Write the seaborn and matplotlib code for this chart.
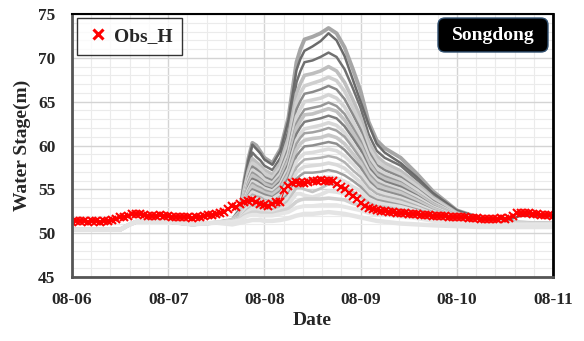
import numpy as np
import pandas as pd
import matplotlib
matplotlib.use("Agg")
import matplotlib.pyplot as plt
from matplotlib.ticker import MultipleLocator, FixedLocator, FixedFormatter
from matplotlib.lines import Line2D
from matplotlib.patches import FancyBboxPatch
import seaborn as sns

# ---------------- data ----------------
tick_labels = ["08-06", "08-07", "08-08", "08-09", "08-10", "08-11"]

# observed stage, hourly from 08-06 00:00 to 08-11 00:00
obs_hours = list(range(0, 121))
obs_h = [
    51.3, 51.4, 51.4, 51.4, 51.3, 51.4, 51.4, 51.3, 51.4, 51.4,
    51.5, 51.6, 51.8, 51.9, 52.0, 52.2, 52.2, 52.2, 52.1, 52.0,
    52.0, 52.0, 52.1, 52.0, 52.0, 51.9, 51.9, 51.8, 51.8, 51.8,
    51.7, 51.8, 51.9, 52.0, 52.1, 52.1, 52.2, 52.3, 52.4, 52.8,
    53.1, 53.0, 53.3, 53.5, 53.7, 53.8, 53.6, 53.3, 53.2, 53.1,
    53.3, 53.5, 53.6, 54.9, 55.4, 55.7, 55.8, 55.7, 55.7, 55.8,
    55.9, 56.0, 56.1, 56.0, 55.9, 55.9, 55.6, 55.3, 55.0, 54.6,
    54.2, 53.9, 53.4, 53.1, 52.9, 52.8, 52.6, 52.5, 52.5, 52.4,
    52.4, 52.3, 52.3, 52.3, 52.2, 52.2, 52.2, 52.1, 52.1, 52.1,
    52.0, 52.0, 52.0, 52.0, 51.9, 51.9, 51.8, 51.8, 51.8, 51.7,
    51.7, 51.7, 51.6, 51.6, 51.6, 51.6, 51.6, 51.7, 51.6, 51.7,
    52.0, 52.3, 52.3, 52.3, 52.3, 52.2, 52.2, 52.1, 52.1, 52.1,
    52.0,
]

# ensemble members: shared pre-event part + individual event part (hours)
pre_hours = [0, 12, 14, 16, 24, 30, 36]
pre_stage = [50.4, 50.4, 50.9, 51.3, 51.3, 51.0, 51.2]
event_hours = [40, 42, 43, 44, 45, 46, 47, 48, 50, 52, 54, 56, 57, 58, 60, 62,
               64, 66, 68, 70, 72, 74, 76, 78, 82, 86, 90, 96, 102, 108, 112, 120]

members = [
    [51.5, 52.8, 56.0, 58.5, 60.3, 60.0, 59.3, 58.6, 58.0, 59.6, 63.2, 69.5, 71.0, 72.1, 72.4, 72.8, 73.4, 72.8, 71.2, 68.8, 66.2, 62.7, 60.6, 59.7, 58.6, 56.8, 54.8, 52.6, 51.7, 51.3, 51.2, 51.1],
    [51.5, 52.8, 55.9, 58.3, 60.1, 59.6, 59.1, 58.4, 57.8, 59.4, 62.9, 68.6, 69.9, 70.8, 71.3, 71.9, 72.8, 72.0, 70.2, 67.6, 65.0, 62.4, 60.2, 59.2, 58.0, 56.4, 54.6, 52.6, 51.7, 51.3, 51.2, 51.1],
    [51.5, 52.6, 55.4, 57.6, 59.2, 58.7, 58.3, 57.7, 57.2, 58.6, 61.7, 67.2, 68.5, 69.5, 69.7, 70.1, 70.6, 70.1, 68.7, 66.6, 64.3, 61.3, 59.4, 58.6, 57.7, 56.1, 54.3, 52.4, 51.7, 51.4, 52.0, 51.9],
    [51.5, 52.5, 55.1, 57.1, 58.5, 58.1, 57.7, 57.2, 56.7, 58.0, 60.9, 65.9, 67.1, 68.0, 68.2, 68.5, 69.0, 68.5, 67.2, 65.3, 63.2, 60.4, 58.8, 58.0, 57.1, 55.7, 54.1, 52.3, 51.6, 51.2, 51.2, 51.1],
    [51.5, 52.4, 54.8, 56.7, 58.0, 57.7, 57.3, 56.8, 56.3, 57.5, 60.2, 64.9, 66.0, 66.8, 67.1, 67.4, 67.8, 67.4, 66.2, 64.4, 62.4, 59.8, 58.3, 57.6, 56.7, 55.4, 53.9, 52.2, 51.5, 51.2, 51.2, 51.1],
    [51.4, 52.4, 54.6, 56.4, 57.6, 57.3, 56.9, 56.4, 56.0, 57.2, 59.7, 64.1, 65.1, 65.9, 66.1, 66.4, 66.8, 66.4, 65.3, 63.6, 61.8, 59.3, 57.8, 57.2, 56.4, 55.1, 53.7, 52.1, 51.5, 51.2, 51.1, 51.1],
    [51.4, 52.3, 54.4, 56.1, 57.2, 56.9, 56.6, 56.1, 55.7, 56.8, 59.1, 63.3, 64.2, 65.0, 65.2, 65.4, 65.8, 65.4, 64.4, 62.8, 61.1, 58.8, 57.4, 56.8, 56.1, 54.9, 53.5, 52.1, 51.5, 51.2, 51.1, 51.1],
    [51.4, 52.3, 54.2, 55.8, 56.9, 56.6, 56.2, 55.8, 55.5, 56.5, 58.7, 62.5, 63.4, 64.1, 64.3, 64.5, 64.9, 64.5, 63.6, 62.1, 60.5, 58.3, 57.0, 56.5, 55.8, 54.6, 53.4, 52.0, 51.4, 51.2, 51.1, 51.1],
    [51.4, 52.2, 54.1, 55.5, 56.6, 56.3, 56.0, 55.6, 55.2, 56.2, 58.3, 62.0, 62.8, 63.5, 63.6, 63.9, 64.2, 63.9, 62.9, 61.5, 60.0, 58.0, 56.7, 56.2, 55.6, 54.5, 53.3, 52.0, 51.4, 51.2, 51.1, 51.1],
    [51.4, 52.2, 53.9, 55.3, 56.2, 56.0, 55.7, 55.3, 55.0, 55.9, 57.9, 61.3, 62.1, 62.7, 62.9, 63.1, 63.4, 63.1, 62.2, 60.9, 59.5, 57.5, 56.4, 55.9, 55.3, 54.3, 53.1, 51.9, 51.4, 51.2, 51.1, 51.1],
    [51.4, 52.1, 53.8, 55.0, 55.9, 55.7, 55.4, 55.1, 54.8, 55.6, 57.4, 60.6, 61.4, 61.9, 62.1, 62.3, 62.6, 62.3, 61.5, 60.2, 58.9, 57.1, 56.1, 55.6, 55.0, 54.1, 53.0, 51.9, 51.4, 51.2, 51.1, 51.1],
    [51.4, 52.1, 53.6, 54.8, 55.7, 55.4, 55.2, 54.9, 54.6, 55.4, 57.1, 60.2, 60.9, 61.4, 61.5, 61.7, 62.0, 61.7, 61.0, 59.8, 58.5, 56.8, 55.8, 55.4, 54.8, 53.9, 52.9, 51.8, 51.3, 51.1, 51.1, 51.1],
    [51.4, 52.0, 53.5, 54.6, 55.4, 55.1, 54.9, 54.6, 54.4, 55.1, 56.7, 59.5, 60.2, 60.6, 60.8, 60.9, 61.2, 60.9, 60.2, 59.1, 58.0, 56.4, 55.5, 55.1, 54.6, 53.7, 52.8, 51.8, 51.3, 51.1, 51.1, 51.0],
    [51.4, 52.0, 53.3, 54.3, 55.0, 54.8, 54.6, 54.4, 54.1, 54.8, 56.3, 58.8, 59.4, 59.9, 60.0, 60.2, 60.4, 60.2, 59.5, 58.5, 57.5, 56.0, 55.1, 54.8, 54.3, 53.5, 52.6, 51.7, 51.3, 51.1, 51.1, 51.0],
    [51.4, 51.9, 53.1, 54.1, 54.7, 54.5, 54.3, 54.1, 53.9, 54.5, 55.8, 58.2, 58.7, 59.1, 59.2, 59.4, 59.6, 59.4, 58.8, 57.9, 56.9, 55.6, 54.8, 54.5, 54.0, 53.3, 52.5, 51.7, 51.3, 51.1, 51.1, 51.0],
    [51.4, 51.9, 53.0, 53.8, 54.4, 54.2, 54.1, 53.8, 53.6, 54.2, 55.4, 57.5, 58.0, 58.4, 58.5, 58.6, 58.8, 58.6, 58.1, 57.2, 56.4, 55.2, 54.5, 54.2, 53.8, 53.1, 52.4, 51.6, 51.2, 51.1, 51.1, 51.0],
    [51.4, 51.8, 52.8, 53.5, 54.1, 53.9, 53.8, 53.6, 53.4, 53.9, 55.0, 56.9, 57.3, 57.6, 57.7, 57.8, 58.0, 57.8, 57.4, 56.6, 55.8, 54.7, 54.1, 53.9, 53.5, 52.9, 52.2, 51.5, 51.2, 51.1, 51.1, 51.0],
    [51.4, 51.8, 52.6, 53.3, 53.7, 53.6, 53.5, 53.3, 53.1, 53.6, 54.5, 56.2, 56.6, 56.9, 56.9, 57.0, 57.2, 57.0, 56.6, 56.0, 55.3, 54.3, 53.8, 53.6, 53.2, 52.7, 52.1, 51.5, 51.2, 51.1, 51.1, 51.0],
    [51.3, 51.7, 52.5, 53.0, 53.4, 53.3, 53.2, 53.0, 52.9, 53.3, 54.1, 55.6, 55.9, 56.1, 56.2, 56.3, 56.4, 56.3, 55.9, 55.3, 54.8, 53.9, 53.5, 53.3, 53.0, 52.5, 52.0, 51.4, 51.2, 51.1, 51.0, 51.0],
    [51.3, 51.7, 52.3, 52.8, 53.1, 53.0, 52.9, 52.8, 52.7, 53.0, 53.7, 55.2, 55.2, 55.0, 54.7, 55.1, 55.6, 55.5, 55.2, 54.7, 54.2, 53.5, 53.1, 53.0, 52.7, 52.3, 51.9, 51.4, 51.1, 51.1, 51.0, 51.0],
    [51.3, 51.6, 52.1, 52.5, 52.8, 52.7, 52.6, 52.5, 52.4, 52.7, 53.3, 54.5, 54.5, 54.3, 54.1, 54.4, 54.8, 54.7, 54.5, 54.1, 53.7, 53.1, 52.8, 52.7, 52.4, 52.1, 51.7, 51.3, 51.1, 51.0, 51.0, 51.0],
    [51.3, 51.6, 52.0, 52.2, 52.4, 52.4, 52.3, 52.3, 52.2, 52.5, 52.8, 53.6, 53.8, 53.9, 53.9, 53.9, 54.0, 53.9, 53.8, 53.4, 53.2, 52.7, 52.5, 52.4, 52.2, 51.9, 51.6, 51.3, 51.1, 51.0, 51.0, 51.0],
    [51.3, 51.5, 51.8, 52.0, 52.1, 52.1, 52.0, 52.0, 52.0, 52.2, 52.4, 52.9, 53.0, 53.1, 53.1, 53.2, 53.2, 53.2, 53.0, 52.8, 52.6, 52.3, 52.1, 52.1, 51.9, 51.7, 51.4, 51.2, 51.0, 51.0, 51.0, 51.0],
    [51.0, 51.2, 51.3, 51.4, 51.5, 51.5, 51.5, 51.4, 51.4, 51.5, 51.7, 52.0, 52.1, 52.2, 52.2, 52.3, 52.4, 52.3, 52.2, 52.0, 51.8, 51.6, 51.4, 51.3, 51.1, 51.0, 50.9, 50.8, 50.7, 50.7, 50.7, 50.7],
]

# styles (not data)
member_colors = ["#a6a6a6", "#6a6a6a", "#707070", "#bebebe", "#cfcfcf", "#8a8a8a",
                 "#d4d4d4", "#979797", "#c2c2c2", "#7e7e7e", "#d8d8d8", "#a2a2a2",
                 "#c8c8c8", "#8e8e8e", "#dcdcdc", "#b2b2b2", "#dadada", "#9e9e9e",
                 "#e0e0e0", "#c4c4c4", "#e2e2e2", "#d2d2d2", "#e6e6e6", "#e4e4e4"]
member_widths = [2.8, 1.8, 1.8, 2.6, 2.6, 1.8, 2.6, 1.8, 2.6, 1.8, 2.6, 1.8,
                 2.6, 1.8, 2.6, 1.8, 2.6, 1.8, 2.8, 2.0, 2.8, 2.6, 2.8, 3.2]

# ---------------- build long-form table ----------------
rows = []
for i, ev in enumerate(members):
    hrs = pre_hours + event_hours
    vals = pre_stage + ev
    for h, v in zip(hrs, vals):
        rows.append((f"m{i+1}", h / 24.0, v))
ens = pd.DataFrame(rows, columns=["member", "day", "stage"])
obs = pd.DataFrame({"day": np.array(obs_hours) / 24.0, "stage": obs_h})

# ---------------- plot ----------------
sns.set_theme(style="white")
plt.rcParams["font.family"] = ["Liberation Serif", "DejaVu Serif"]
plt.rcParams["font.weight"] = "bold"

fig = plt.figure(figsize=(5.84, 3.41), dpi=100)
ax = fig.add_axes([72 / 584, 1 - 277 / 341, (553 - 72) / 584, (277 - 14) / 341])

for i in range(len(members)):
    sub = ens[ens["member"] == f"m{i+1}"]
    sns.lineplot(data=sub, x="day", y="stage", ax=ax, color=member_colors[i],
                 lw=member_widths[i], estimator=None, sort=False, legend=False,
                 solid_capstyle="round", solid_joinstyle="round")

sns.lineplot(data=obs, x="day", y="stage", ax=ax, color="red", lw=0.7,
             marker="x", markersize=5.5, markeredgewidth=1.5,
             markeredgecolor="red", estimator=None, legend=False)

ax.set_xlim(0, 5)
ax.set_ylim(45, 75)
ax.xaxis.set_major_locator(FixedLocator(list(range(len(tick_labels)))))
ax.xaxis.set_major_formatter(FixedFormatter(tick_labels))
ax.xaxis.set_minor_locator(MultipleLocator(0.2))
ax.yaxis.set_major_locator(MultipleLocator(5))
ax.yaxis.set_minor_locator(MultipleLocator(1))
ax.grid(which="major", color="#d4d4d4", lw=1.0)
ax.grid(which="minor", color="#ebebeb", lw=0.8)
ax.set_axisbelow(True)
ax.tick_params(which="both", length=0)
ax.tick_params(axis="y", pad=12, labelsize=12.5)
ax.tick_params(axis="x", pad=11, labelsize=12.5)
for lab in ax.get_xticklabels() + ax.get_yticklabels():
    lab.set_fontweight("bold")

ax.set_xlabel("Date", fontsize=14, fontweight="bold", labelpad=3)
ax.set_ylabel("Water Stage(m)", fontsize=14, fontweight="bold", labelpad=5)

for side in ["top", "right"]:
    ax.spines[side].set_color("black")
ax.spines["top"].set_linewidth(1.5)
ax.spines["right"].set_linewidth(2.0)
for side in ["left", "bottom"]:
    ax.spines[side].set_color("#555555")
    ax.spines[side].set_linewidth(2.0)

handle = Line2D([], [], color="red", marker="x", linestyle="none",
                markersize=7, markeredgewidth=2.2)
leg = ax.legend([handle], ["Obs_H"], loc="upper left",
                bbox_to_anchor=(0.010, 0.985), borderaxespad=0,
                prop={"family": "Liberation Serif", "weight": "bold", "size": 14},
                frameon=True, fancybox=False, edgecolor="black",
                handlelength=1.2, handletextpad=0.2, borderpad=0.5)
leg.get_frame().set_linewidth(1.0)

# station label box (inches in figure space)
box = FancyBboxPatch((4.38, 3.41 - 0.52), 1.10, 0.34,
                     boxstyle="round,pad=0,rounding_size=0.07",
                     transform=fig.dpi_scale_trans, facecolor="black",
                     edgecolor="#2f4f6f", lw=1, zorder=5)
fig.patches.append(box)
fig.text(4.93, 3.41 - 0.35, "Songdong", transform=fig.dpi_scale_trans,
         ha="center", va="center", color="white", fontsize=14,
         fontweight="bold", zorder=6)

fig.savefig("out.png", dpi=100)
